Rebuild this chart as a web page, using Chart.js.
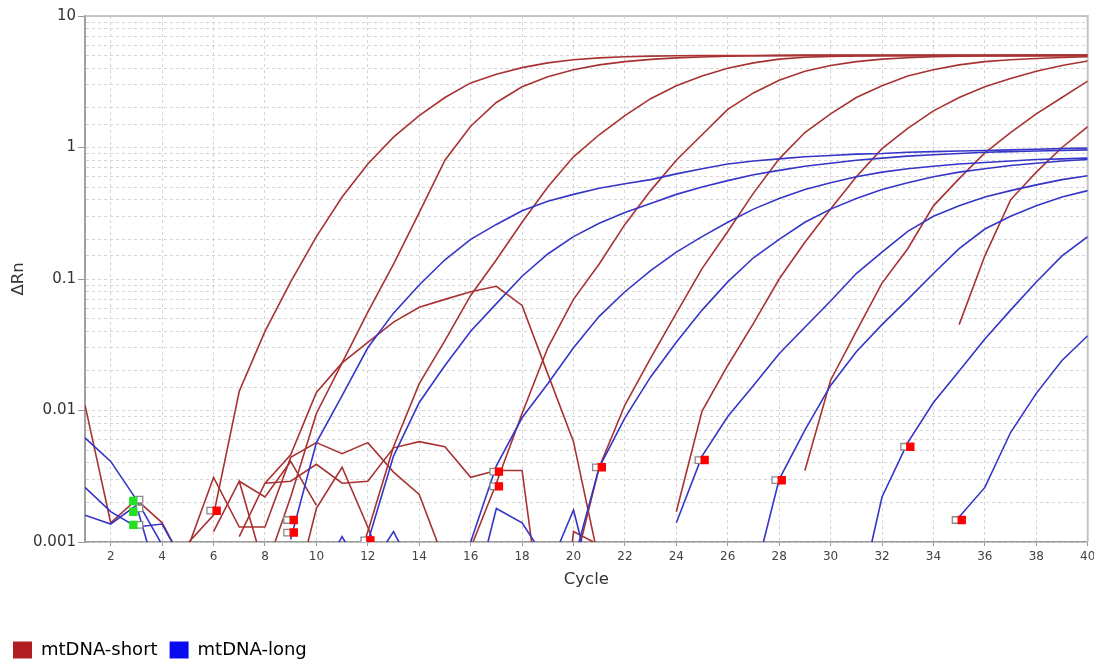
<!DOCTYPE html>
<html>
<head>
<meta charset="utf-8">
<title>Amplification plot</title>
<script src="https://cdn.jsdelivr.net/npm/chart.js@4.4.1/dist/chart.umd.min.js"></script>
<style>
  html, body { margin: 0; padding: 0; background: #fff; overflow: hidden; }
  #wrap { position: relative; width: 1094px; height: 669px; }
</style>
</head>
<body>
<div id="wrap"><canvas id="amplificacao"></canvas></div>
<script>
//..........DADOS..........
var cycles = [1, 2, 3, 4, 5, 6, 7, 8, 9, 10, 11, 12, 13, 14, 15, 16, 17, 18, 19, 20,
              21, 22, 23, 24, 25, 26, 27, 28, 29, 30, 31, 32, 33, 34, 35, 36, 37, 38, 39, 40];
var xTickValues = [2, 4, 6, 8, 10, 12, 14, 16, 18, 20, 22, 24, 26, 28, 30, 32, 34, 36, 38, 40];
var yTickValues = [0.001, 0.01, 0.1, 1, 10];
var yTickLabels = ["0.001", "0.01", "0.1", "1", "10"];
var legendNames = ["mtDNA-short", "mtDNA-long"];

// mtDNA-short (one value per cycle, null = no point)
var short1 = [null, null, null, 0.0006, 0.00098, 0.0016, 0.014, 0.04, 0.095, 0.21,
              0.42, 0.75, 1.2, 1.75, 2.4, 3.1, 3.6, 4.05, 4.4, 4.65,
              4.8, 4.9, 4.95, 4.98, 5.0, 5.0, 5.0, 5.0, 5.0, 5.0,
              5.0, 5.0, 5.0, 5.0, 5.0, 5.0, 5.0, 5.0, 5.0, 5.0];
var short2 = [null, null, null, null, null, null, null, 0.0006, 0.0022, 0.0095,
              0.023, 0.056, 0.13, 0.32, 0.8, 1.45, 2.2, 2.9, 3.45, 3.9,
              4.25, 4.5, 4.68, 4.8, 4.88, 4.94, 4.98, 5.02, 5.04, 5.05,
              5.05, 5.05, 5.05, 5.05, 5.05, 5.05, 5.05, 5.05, 5.05, 5.05];
var short3 = [null, null, null, null, null, null, null, null, null, null,
              0.0003, 0.0012, 0.0053, 0.016, 0.034, 0.075, 0.14, 0.27, 0.5, 0.85,
              1.25, 1.75, 2.35, 2.95, 3.5, 4.0, 4.4, 4.7, 4.85, 4.93,
              4.96, 4.98, 4.99, 5.0, 5.0, 5.0, 5.0, 5.0, 5.0, 5.0];
var short4 = [null, null, null, null, null, null, null, null, null, null,
              null, null, null, null, null, 0.0009, 0.0028, 0.0095, 0.03, 0.07,
              0.13, 0.26, 0.47, 0.8, 1.25, 1.95, 2.6, 3.25, 3.8, 4.2,
              4.5, 4.7, 4.82, 4.9, 4.95, 4.98, 5.0, 5.02, 5.03, 5.03];
var short5 = [null, null, null, null, null, null, null, null, null, null,
              null, null, null, null, null, null, null, null, null, 0.0006,
              0.0037, 0.011, 0.025, 0.055, 0.12, 0.23, 0.45, 0.82, 1.3, 1.8,
              2.4, 2.95, 3.5, 3.9, 4.25, 4.5, 4.65, 4.75, 4.83, 4.9];
var short6 = [null, null, null, null, null, null, null, null, null, null,
              null, null, null, null, null, null, null, null, null, null,
              null, null, null, 0.0017, 0.0099, 0.022, 0.046, 0.1, 0.19, 0.34,
              0.6, 0.98, 1.4, 1.9, 2.4, 2.9, 3.35, 3.8, 4.2, 4.55];
var short7 = [null, null, null, null, null, null, null, null, null, null,
              null, null, null, null, null, null, null, null, null, null,
              null, null, null, null, null, null, null, null, 0.0035, 0.017,
              0.04, 0.093, 0.17, 0.36, 0.58, 0.91, 1.3, 1.8, 2.4, 3.2];
var short8 = [null, null, null, null, null, null, null, null, null, null,
              null, null, null, null, null, null, null, null, null, null,
              null, null, null, null, null, null, null, null, null, null,
              null, null, null, null, 0.045, 0.15, 0.4, 0.65, 1.0, 1.44];
var short9 = [null, null, null, null, null, null, null, 0.0028, 0.0046, 0.0137,
              0.023, 0.033, 0.047, 0.061, 0.07, 0.08, 0.088, 0.063, 0.019, 0.0058,
              0.0007, null, null, null, null, null, null, null, null, null,
              null, null, null, null, null, null, null, null, null, null];
var short10 = [0.011, 0.0014, 0.0021, 0.0014, 0.0006, null, null, null, null, null,
               null, null, null, null, null, null, null, null, null, null,
               null, null, null, null, null, null, null, null, null, null,
               null, null, null, null, null, null, null, null, null, null];
var short11 = [null, null, null, null, 0.0009, 0.0031, 0.0013, 0.0013, 0.0044, 0.0057,
               0.0047, 0.0057, 0.0034, 0.0023, 0.0007, null, null, null, null, null,
               null, null, null, null, null, null, null, null, null, null,
               null, null, null, null, null, null, null, null, null, null];
var short12 = [null, null, null, null, null, 0.0012, 0.0029, 0.0006, null, null,
               null, null, null, null, null, null, null, null, null, null,
               null, null, null, null, null, null, null, null, null, null,
               null, null, null, null, null, null, null, null, null, null];
var short13 = [null, null, null, null, null, null, 0.0029, 0.0022, 0.0041, 0.0019,
               null, null, null, null, null, null, null, null, null, null,
               null, null, null, null, null, null, null, null, null, null,
               null, null, null, null, null, null, null, null, null, null];
var short14 = [null, null, null, null, null, null, 0.0011, 0.0028, 0.0029, 0.0039,
               0.0028, 0.0029, 0.0052, 0.0058, 0.0053, 0.0031, 0.0035, 0.0035, 0.00012, null,
               null, null, null, null, null, null, null, null, null, null,
               null, null, null, null, null, null, null, null, null, null];
var short15 = [null, null, null, null, null, null, null, null, 0.0003, 0.0018,
               0.0037, 0.0013, 0.0004, null, null, null, null, null, null, null,
               null, null, null, null, null, null, null, null, null, null,
               null, null, null, null, null, null, null, null, null, null];
var short16 = [null, null, null, null, null, null, null, null, null, null,
               null, null, null, null, null, null, null, null, 0.00002, 0.0012,
               0.00095, null, null, null, null, null, null, null, null, null,
               null, null, null, null, null, null, null, null, null, null];

// mtDNA-long
var long1 = [null, null, null, null, null, null, null, null, 0.00105, 0.0057,
             0.013, 0.03, 0.055, 0.09, 0.14, 0.2, 0.26, 0.33, 0.39, 0.44,
             0.49, 0.53, 0.57, 0.63, 0.69, 0.75, 0.79, 0.82, 0.85, 0.87,
             0.89, 0.9, 0.92, 0.93, 0.94, 0.95, 0.96, 0.97, 0.98, 0.99];
var long2 = [null, null, null, null, null, null, null, null, null, null,
             null, 0.001, 0.0045, 0.0115, 0.022, 0.04, 0.065, 0.105, 0.155, 0.21,
             0.265, 0.32, 0.375, 0.44, 0.5, 0.56, 0.62, 0.67, 0.72, 0.76,
             0.8, 0.83, 0.86, 0.88, 0.9, 0.92, 0.93, 0.94, 0.95, 0.96];
var long3 = [null, null, null, null, null, null, null, null, null, null,
             null, null, null, null, null, 0.001, 0.0038, 0.0088, 0.016, 0.03,
             0.052, 0.08, 0.116, 0.16, 0.21, 0.27, 0.34, 0.41, 0.48, 0.54,
             0.6, 0.65, 0.69, 0.72, 0.75, 0.77, 0.79, 0.81, 0.82, 0.83];
var long4 = [null, null, null, null, null, null, null, null, null, null,
             null, null, null, null, null, null, null, null, null, 0.0007,
             0.0037, 0.0088, 0.018, 0.033, 0.058, 0.095, 0.145, 0.2, 0.27, 0.34,
             0.41, 0.48, 0.54, 0.6, 0.65, 0.69, 0.73, 0.76, 0.79, 0.81];
var long5 = [null, null, null, null, null, null, null, null, null, null,
             null, null, null, null, null, null, null, null, null, null,
             null, null, null, 0.0014, 0.0045, 0.009, 0.0155, 0.027, 0.043, 0.068,
             0.11, 0.16, 0.23, 0.3, 0.36, 0.42, 0.47, 0.52, 0.57, 0.61];
var long6 = [null, null, null, null, null, null, null, null, null, null,
             null, null, null, null, null, null, null, null, null, null,
             null, null, null, null, null, null, 0.0005, 0.003, 0.0071, 0.0155,
             0.028, 0.045, 0.07, 0.11, 0.17, 0.24, 0.3, 0.36, 0.42, 0.47];
var long7 = [null, null, null, null, null, null, null, null, null, null,
             null, null, null, null, null, null, null, null, null, null,
             null, null, null, null, null, null, null, null, null, null,
             0.0003, 0.0022, 0.0057, 0.0115, 0.02, 0.035, 0.058, 0.095, 0.15, 0.21];
var long8 = [null, null, null, null, null, null, null, null, null, null,
             null, null, null, null, null, null, null, null, null, null,
             null, null, null, null, null, null, null, null, null, null,
             null, null, null, null, 0.00155, 0.0026, 0.0068, 0.0135, 0.024, 0.037];
var long9 = [0.0062, 0.0041, 0.0021, 0.00095, 0.0004, null, null, null, null, null,
             null, null, null, null, null, null, null, null, null, null,
             null, null, null, null, null, null, null, null, null, null,
             null, null, null, null, null, null, null, null, null, null];
var long10 = [0.0026, 0.0017, 0.0013, 0.00137, 0.0006, null, null, null, null, null,
              null, null, null, null, null, null, null, null, null, null,
              null, null, null, null, null, null, null, null, null, null,
              null, null, null, null, null, null, null, null, null, null];
var long11 = [0.0016, 0.00137, 0.0019, 0.0004, null, null, null, null, null, null,
              null, null, null, null, null, null, null, null, null, null,
              null, null, null, null, null, null, null, null, null, null,
              null, null, null, null, null, null, null, null, null, null];
var long12 = [null, null, null, null, null, null, null, null, null, 0.0005,
              0.0011, 0.0005, null, null, null, null, null, null, null, null,
              null, null, null, null, null, null, null, null, null, null,
              null, null, null, null, null, null, null, null, null, null];
var long13 = [null, null, null, null, null, null, null, null, null, null,
              null, 0.0006, 0.0012, 0.0005, null, null, null, null, null, null,
              null, null, null, null, null, null, null, null, null, null,
              null, null, null, null, null, null, null, null, null, null];
var long14 = [null, null, null, null, null, null, null, null, null, null,
              null, null, null, null, null, 0.0003, 0.0018, 0.0014, 0.0007, null,
              null, null, null, null, null, null, null, null, null, null,
              null, null, null, null, null, null, null, null, null, null];
var long15 = [null, null, null, null, null, null, null, null, null, null,
              null, null, null, null, null, null, null, null, 0.0006, 0.00175,
              0.0003, null, null, null, null, null, null, null, null, null,
              null, null, null, null, null, null, null, null, null, null];

// marcadores de Ct
var markGreyX = [3.12, 3.12, 3.12, 5.87, 8.86, 8.86, 11.86, 16.88, 16.88, 20.87, 24.86, 27.85, 32.86, 34.86];
var markGreyY = [0.0021, 0.0018, 0.00135, 0.00173, 0.00147, 0.00118, 0.00103, 0.00343, 0.00265, 0.0037, 0.0042, 0.00295, 0.0053, 0.00147];
var markRedX = [6.12, 9.12, 9.12, 12.1, 17.1, 17.1, 21.1, 25.1, 28.1, 33.1, 35.1];
var markRedY = [0.00173, 0.00147, 0.00118, 0.00103, 0.00343, 0.00265, 0.0037, 0.0042, 0.00295, 0.0053, 0.00147];
var markGreenX = [2.88, 2.88, 2.88];
var markGreenY = [0.00205, 0.0017, 0.00135];

//..........CORES..........
var corShort = "#a83232";
var corLong = "#3535c8";
var legendColors = ["#b01e24", "#0a0af0"];

var shortSeries = [short1, short2, short3, short4, short5, short6, short7, short8,
                   short9, short10, short11, short12, short13, short14, short15, short16];
var longSeries = [long1, long2, long3, long4, long5, long6, long7, long8,
                  long9, long10, long11, long12, long13, long14, long15];

function pontos(xs, ys) {
    return xs.map(function(x, i) { return { x: x, y: ys[i] }; });
}

function linha(valores, cor) {
    return {
        data: valores,
        borderColor: cor,
        borderWidth: 1.6,
        pointRadius: 0,
        pointHoverRadius: 0,
        tension: 0,
        fill: false,
        spanGaps: false,
        order: 3
    };
}

function marcador(xs, ys, fundo, borda, raio, ordem) {
    return {
        type: "scatter",
        data: pontos(xs, ys),
        pointStyle: "rect",
        pointRadius: raio,
        pointHoverRadius: raio,
        backgroundColor: fundo,
        borderColor: borda,
        borderWidth: 1.3,
        showLine: false,
        order: ordem
    };
}

var datasets = []
    .concat([marcador(markRedX, markRedY, "#ff0000", "#ff0000", 5, 0)])
    .concat([marcador(markGreenX, markGreenY, "#22e022", "#22e022", 5, 0)])
    .concat([marcador(markGreyX, markGreyY, "#ffffff", "#8a8a8a", 4.6, 1)])
    .concat(longSeries.map(function(s) { return linha(s, corLong); }))
    .concat(shortSeries.map(function(s) { return linha(s, corShort); }));

function ehDecada(v) {
    var l = Math.log10(v);
    return Math.abs(l - Math.round(l)) < 1e-6;
}

function rotuloY(v) {
    for (var i = 0; i < yTickValues.length; i++) {
        if (Math.abs(Math.log10(v) - Math.log10(yTickValues[i])) < 1e-6) return yTickLabels[i];
    }
    return "";
}

// moldura superior e direita
var moldura = {
    id: "moldura",
    beforeDatasetsDraw: function(chart) {
        var a = chart.chartArea, ctx = chart.ctx;
        ctx.save();
        ctx.strokeStyle = "#c4c4c4";
        ctx.lineWidth = 2;
        ctx.beginPath();
        ctx.moveTo(a.left, a.top);
        ctx.lineTo(a.right, a.top);
        ctx.lineTo(a.right, a.bottom);
        ctx.stroke();
        ctx.restore();
    }
};

Chart.defaults.font.family = "'DejaVu Sans', sans-serif";

var ctx = document.getElementById("amplificacao").getContext("2d");
var grafico = new Chart(ctx, {
    type: "line",
    data: { labels: cycles, datasets: datasets },
    options: {
        responsive: true,
        maintainAspectRatio: false,
        animation: false,
        events: [],
        devicePixelRatio: 1,
        layout: { padding: { top: 16, left: 1, right: 6, bottom: 0 } },
        scales: {
            x: {
                type: "linear",
                min: 1,
                max: 40,
                afterBuildTicks: function(s) {
                    s.ticks = xTickValues.map(function(v) { return { value: v }; });
                },
                afterFit: function(s) {
                    s.height = 87;
                    s.paddingLeft = 0;
                    s.paddingRight = 0;
                },
                ticks: { autoSkip: false, maxRotation: 0, padding: 3.5, color: "#444", font: { size: 12 } },
                grid: { color: "#d4d4d4", lineWidth: 1, tickLength: 4, tickColor: "#9a9a9a", tickWidth: 1 },
                border: { color: "#9a9a9a", width: 1.5, dash: [3, 3] },
                title: { display: true, text: "Cycle", color: "#333", font: { size: 16.5 }, padding: { top: 0, bottom: 39 } }
            },
            y: {
                type: "logarithmic",
                min: 0.001,
                max: 10,
                afterFit: function(s) { s.width = 84; },
                ticks: {
                    autoSkip: false,
                    padding: 2,
                    color: "#333",
                    font: { size: 15 },
                    callback: function(v) { return rotuloY(v); }
                },
                grid: {
                    color: "#d4d4d4",
                    lineWidth: 1,
                    tickLength: 7,
                    tickWidth: 1,
                    tickColor: function(c) {
                        return c.tick && ehDecada(c.tick.value) ? "#9a9a9a" : "rgba(0,0,0,0)";
                    }
                },
                border: { color: "#a0a0a0", width: 2, dash: [3, 3] },
                title: { display: true, text: "ΔRn", color: "#333", font: { size: 16.5 }, padding: { top: 8, bottom: 0 } }
            }
        },
        plugins: {
            tooltip: { enabled: false },
            legend: {
                position: "bottom",
                align: "start",
                onClick: null,
                labels: {
                    boxWidth: 19,
                    boxHeight: 17,
                    padding: 12,
                    color: "#333",
                    font: { size: 18 },
                    generateLabels: function() {
                        return legendNames.map(function(t, i) {
                            return { text: t, fillStyle: legendColors[i], strokeStyle: legendColors[i], lineWidth: 0, hidden: false, datasetIndex: i };
                        });
                    }
                }
            }
        }
    },
    plugins: [moldura]
});
</script>
</body>
</html>
